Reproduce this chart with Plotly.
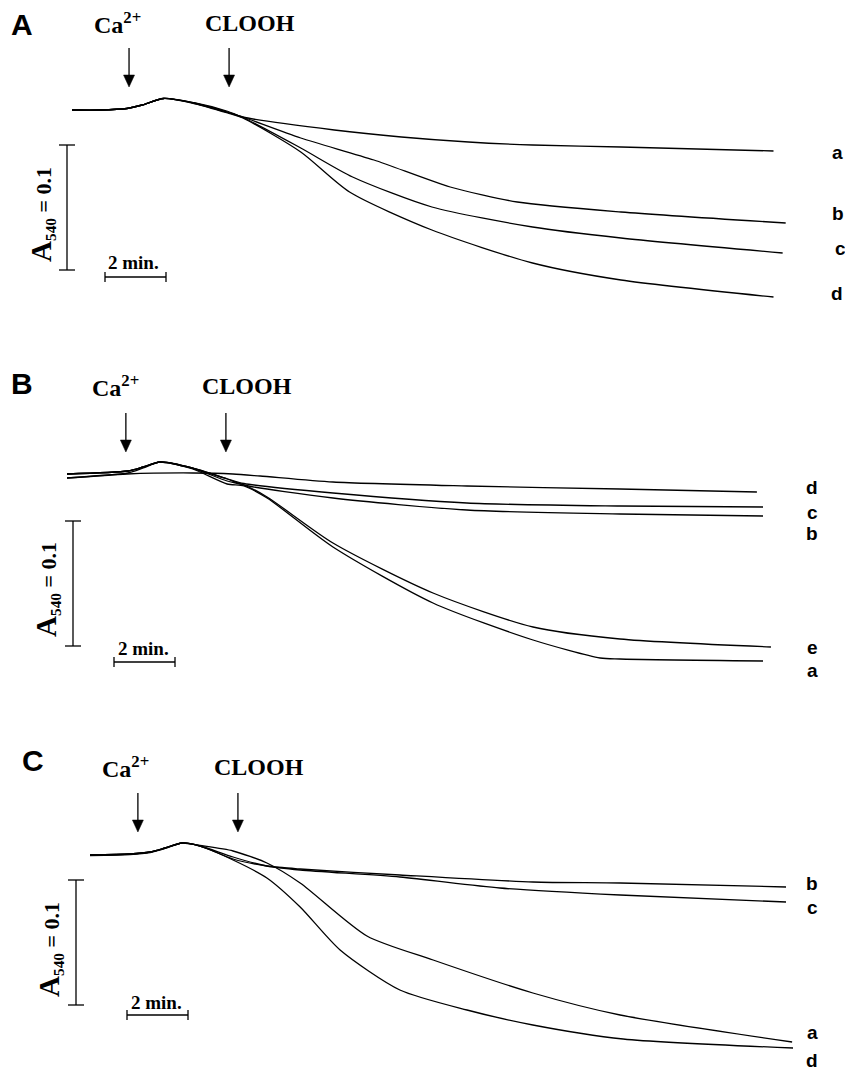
import plotly.graph_objects as go

# ---------------- data: time (min) and ΔA540 relative to start ----------------
# Panel A
A_a_t = [0, 0.9, 1.8, 2.3, 3.0, 4.0, 5.1, 5.6, 8.6, 10.8, 13.0, 15.1, 18.0, 23.0]
A_a_y = [0, 0, 0.0012, 0.004, 0.0092, 0.0058, -0.001, -0.0056, -0.016, -0.0216, -0.0256, -0.028, -0.0296, -0.0328]
A_b_t = [0, 0.9, 1.8, 2.3, 3.0, 4.0, 5.1, 5.6, 7.5, 9.9, 12.4, 14.6, 18.0, 23.4]
A_b_y = [0, 0, 0.0012, 0.004, 0.0092, 0.0056, -0.0016, -0.0056, -0.0224, -0.04, -0.0616, -0.0736, -0.0816, -0.0904]
A_c_t = [0, 0.9, 1.8, 2.3, 3.0, 4.0, 5.1, 5.6, 7.5, 9.2, 11.8, 15.1, 18.0, 23.3]
A_c_y = [0, 0, 0.0012, 0.004, 0.0092, 0.0054, -0.002, -0.006, -0.0304, -0.0536, -0.0776, -0.0936, -0.1024, -0.1144]
A_d_t = [0, 0.9, 1.8, 2.3, 3.0, 4.0, 5.1, 5.6, 7.5, 9.1, 11.8, 15.1, 18.0, 23.0]
A_d_y = [0, 0, 0.0012, 0.004, 0.0092, 0.0052, -0.0024, -0.0064, -0.0336, -0.0656, -0.096, -0.1224, -0.136, -0.1496]

# Panel B
B_a_t = [0, 2.0, 2.5, 3.05, 4.1, 5.25, 5.8, 6.56, 8.72, 12.0, 15.28, 17.48, 18.13, 22.82]
B_a_y = [-0.0024, 0.0016, 0.0056, 0.0104, 0.005, -0.0072, -0.0088, -0.0184, -0.0576, -0.1024, -0.132, -0.1464, -0.1472, -0.1488]
B_b_t = [0, 2.0, 2.5, 3.05, 4.1, 5.25, 5.8, 8.72, 13.11, 18.13, 22.82]
B_b_y = [0.0008, 0.0032, 0.0064, 0.0104, 0.0056, -0.0032, -0.008, -0.0184, -0.028, -0.0312, -0.0328]
B_c_t = [0, 2.0, 2.5, 3.05, 4.1, 5.25, 5.8, 8.72, 13.11, 18.13, 22.82]
B_c_y = [0.0008, 0.0032, 0.0064, 0.0104, 0.0056, -0.003, -0.0068, -0.0144, -0.0224, -0.0248, -0.0256]
B_d_t = [0, 1.97, 4.13, 5.44, 6.33, 8.72, 13.11, 18.13, 22.62]
B_d_y = [-0.0024, 0.0008, 0.0016, 0.0008, -0.0008, -0.0056, -0.0088, -0.0112, -0.0136]
B_e_t = [0, 2.0, 2.5, 3.05, 4.1, 5.25, 5.8, 6.56, 8.72, 12.0, 15.28, 18.13, 23.08]
B_e_y = [0.0008, 0.0032, 0.0064, 0.0104, 0.0056, -0.0048, -0.008, -0.0176, -0.0544, -0.0944, -0.1216, -0.1312, -0.1376]

# Panel C
C_a_t = [0, 1.31, 1.97, 2.46, 3.02, 3.61, 4.69, 5.80, 6.89, 9.08, 11.25, 14.52, 17.38, 23.02]
C_a_y = [0, 0.0008, 0.0024, 0.0056, 0.0096, 0.0076, 0.0032, -0.0064, -0.0224, -0.0648, -0.084, -0.1104, -0.128, -0.1496]
C_b_t = [0, 1.31, 1.97, 2.46, 3.02, 3.61, 4.69, 5.80, 6.89, 10.16, 14.52, 17.38, 22.82]
C_b_y = [0, 0.0008, 0.0024, 0.0056, 0.0096, 0.0072, -0.0032, -0.0088, -0.0112, -0.016, -0.0216, -0.0224, -0.0256]
C_c_t = [0, 1.31, 1.97, 2.46, 3.02, 3.61, 4.69, 5.80, 6.89, 10.16, 13.44, 17.38, 22.82]
C_c_y = [-0.0004, 0.0004, 0.002, 0.0052, 0.0096, 0.0072, -0.0016, -0.0088, -0.012, -0.0176, -0.0264, -0.032, -0.0376]
C_d_t = [0, 1.31, 1.97, 2.46, 3.02, 3.61, 4.69, 5.80, 6.89, 8.20, 10.16, 12.36, 14.52, 17.48, 23.05]
C_d_y = [0, 0.0008, 0.0024, 0.0056, 0.0096, 0.007, -0.004, -0.0184, -0.0416, -0.076, -0.108, -0.124, -0.136, -0.1472, -0.1544]

# additions (time, min) and scale bar sizes
CA_TIME = {"A": 1.87, "B": 1.93, "C": 1.57}
CLOOH_TIME = {"A": 5.15, "B": 5.21, "C": 4.85}
SCALE_ABS = 0.1
SCALE_MIN = 2.0

curves = {
    "A": [("a", A_a_t, A_a_y), ("b", A_b_t, A_b_y), ("c", A_c_t, A_c_y), ("d", A_d_t, A_d_y)],
    "B": [("a", B_a_t, B_a_y), ("b", B_b_t, B_b_y), ("c", B_c_t, B_c_y), ("d", B_d_t, B_d_y), ("e", B_e_t, B_e_y)],
    "C": [("a", C_a_t, C_a_y), ("b", C_b_t, C_b_y), ("c", C_c_t, C_c_y), ("d", C_d_t, C_d_y)],
}

# ---------------- layout geometry (pixels) ----------------
W, H = 845, 1070
PX_MIN = 30.5     # px per minute
PX_ABS = 1250.0   # px per absorbance unit
panels = {
    "A": dict(idx=1, x0=72, y0=110, top=0, bottom=357,
              letter=(22, 24), ca=(117, 23), cl=(250, 23), tip=87,
              vbar=(67, 145), vlab=(42, 215), hbar=(105, 277), hlab=(133, 262),
              labels={"a": (837, 152), "b": (838, 213), "c": (840, 248), "d": (837, 293)}),
    "B": dict(idx=2, x0=67, y0=475, top=357, bottom=713,
              letter=(22, 383), ca=(115, 386), cl=(247, 386), tip=452,
              vbar=(73, 521), vlab=(47, 590), hbar=(114, 662), hlab=(143, 648),
              labels={"d": (812, 487), "c": (812, 512), "b": (812, 533), "e": (812, 647), "a": (812, 670)}),
    "C": dict(idx=3, x0=90, y0=855, top=713, bottom=1070,
              letter=(33, 760), ca=(125, 767), cl=(259, 767), tip=832,
              vbar=(76, 880), vlab=(50, 950), hbar=(127, 1015), hlab=(156, 1002),
              labels={"b": (812, 883), "c": (812, 907), "a": (812, 1032), "d": (812, 1060)}),
}

SERIF = "Liberation Serif, Times New Roman, serif"
SANS = "Liberation Sans, Arial, sans-serif"
BLACK = dict(color="black", width=1.3)

fig = go.Figure()
layout = dict(width=W, height=H, margin=dict(l=0, r=0, t=0, b=0),
              paper_bgcolor="white", plot_bgcolor="white", showlegend=False)
annotations, shapes = [], []

for name, p in panels.items():
    i = p["idx"]
    xa = "xaxis" if i == 1 else f"xaxis{i}"
    ya = "yaxis" if i == 1 else f"yaxis{i}"
    xr = "x" if i == 1 else f"x{i}"
    yr = "y" if i == 1 else f"y{i}"
    x0, y0 = p["x0"], p["y0"]
    X = lambda px, x0=x0: (px - x0) / PX_MIN
    Y = lambda py, y0=y0: (y0 - py) / PX_ABS
    layout[xa] = dict(domain=[0, 1], range=[X(0), X(W)], visible=False, anchor=yr, fixedrange=True)
    layout[ya] = dict(domain=[(H - p["bottom"]) / H, (H - p["top"]) / H],
                      range=[Y(p["bottom"]), Y(p["top"])], visible=False, anchor=xr, fixedrange=True)

    for lab, t, y in curves[name]:
        fig.add_trace(go.Scatter(x=t, y=y, mode="lines", xaxis=xr, yaxis=yr,
                                 line=dict(color="black", width=1.3, shape="spline", smoothing=0.7),
                                 hoverinfo="skip", name=lab))
        lx, ly = p["labels"][lab]
        annotations.append(dict(x=X(lx), y=Y(ly), xref=xr, yref=yr, text=f"<b>{lab}</b>",
                                showarrow=False, font=dict(family=SANS, size=19, color="black"),
                                xanchor="center", yanchor="middle"))

    # panel letter
    annotations.append(dict(x=X(p["letter"][0]), y=Y(p["letter"][1]), xref=xr, yref=yr,
                            text=f"<b>{name}</b>", showarrow=False,
                            font=dict(family=SANS, size=30, color="black"),
                            xanchor="center", yanchor="middle"))
    # addition labels
    annotations.append(dict(x=X(p["ca"][0]), y=Y(p["ca"][1]), xref=xr, yref=yr,
                            text="<b>Ca<sup>2+</sup></b>", showarrow=False,
                            font=dict(family=SERIF, size=24, color="black"),
                            xanchor="center", yanchor="middle"))
    annotations.append(dict(x=X(p["cl"][0]), y=Y(p["cl"][1]), xref=xr, yref=yr,
                            text="<b>CLOOH</b>", showarrow=False,
                            font=dict(family=SERIF, size=24, color="black"),
                            xanchor="center", yanchor="middle"))
    # arrows: shaft + filled head
    tip = p["tip"]
    for tt in (CA_TIME[name], CLOOH_TIME[name]):
        shapes.append(dict(type="line", xref=xr, yref=yr, x0=tt, x1=tt,
                           y0=Y(tip - 39), y1=Y(tip - 8), line=BLACK))
        hw = 5.5 / PX_MIN
        path = (f"M {tt - hw},{Y(tip - 12)} L {tt + hw},{Y(tip - 12)} L {tt},{Y(tip)} Z")
        shapes.append(dict(type="path", xref=xr, yref=yr, path=path,
                           fillcolor="black", line=dict(color="black", width=0.5)))
    # vertical scale bar (A540 = 0.1)
    vx, vy = X(p["vbar"][0]), Y(p["vbar"][1])
    cap = 8 / PX_MIN
    shapes.append(dict(type="line", xref=xr, yref=yr, x0=vx, x1=vx, y0=vy, y1=vy - SCALE_ABS, line=BLACK))
    for yy in (vy, vy - SCALE_ABS):
        shapes.append(dict(type="line", xref=xr, yref=yr, x0=vx - cap, x1=vx + cap, y0=yy, y1=yy, line=BLACK))
    annotations.append(dict(x=X(p["vlab"][0]), y=Y(p["vlab"][1]), xref=xr, yref=yr,
                            text="<b><span style='font-size:29px'>A</span><sub>540</sub> = 0.1</b>",
                            textangle=-90, showarrow=False,
                            font=dict(family=SERIF, size=22, color="black"),
                            xanchor="center", yanchor="middle"))
    # horizontal scale bar (2 min)
    hx, hy = X(p["hbar"][0]), Y(p["hbar"][1])
    capy = 5 / PX_ABS
    shapes.append(dict(type="line", xref=xr, yref=yr, x0=hx, x1=hx + SCALE_MIN, y0=hy, y1=hy, line=BLACK))
    for xx in (hx, hx + SCALE_MIN):
        shapes.append(dict(type="line", xref=xr, yref=yr, x0=xx, x1=xx, y0=hy - capy, y1=hy + capy, line=BLACK))
    annotations.append(dict(x=X(p["hlab"][0]), y=Y(p["hlab"][1]), xref=xr, yref=yr,
                            text="<b>2 min.</b>", showarrow=False,
                            font=dict(family=SERIF, size=19, color="black"),
                            xanchor="center", yanchor="middle"))

layout["annotations"] = annotations
layout["shapes"] = shapes
fig.update_layout(**layout)
fig.write_html("out.html")
